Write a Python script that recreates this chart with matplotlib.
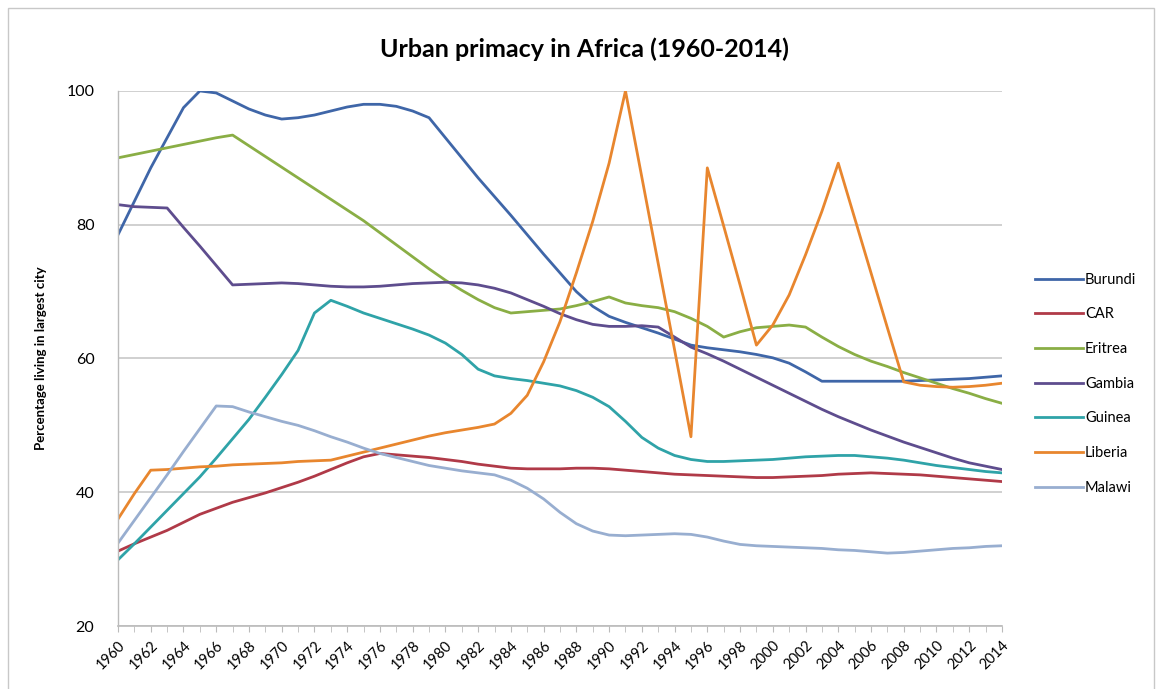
import matplotlib
matplotlib.use("Agg")
import matplotlib.pyplot as plt
from matplotlib.patches import Rectangle
from matplotlib.ticker import MultipleLocator

plt.rcParams['font.family'] = ['Lato', 'DejaVu Sans']

years = list(range(1960, 2015))

burundi = [78.5, 83.5, 88.5, 93.0, 97.5, 100.0, 99.7, 98.5, 97.3, 96.4,
           95.8, 96.0, 96.4, 97.0, 97.6, 98.0, 98.0, 97.7, 97.0, 96.0,
           93.0, 90.0, 87.0, 84.2, 81.4, 78.5, 75.6, 72.8, 70.0, 67.8,
           66.3, 65.4, 64.6, 63.8, 62.9, 62.0, 61.6, 61.3, 61.0, 60.6,
           60.1, 59.3, 58.0, 56.6, 56.6, 56.6, 56.6, 56.6, 56.6, 56.7,
           56.8, 56.9, 57.0, 57.2, 57.4]
car = [31.2, 32.3, 33.3, 34.3, 35.5, 36.7, 37.6, 38.5, 39.2, 39.9,
       40.7, 41.5, 42.4, 43.4, 44.4, 45.3, 45.8, 45.6, 45.4, 45.2,
       44.9, 44.6, 44.2, 43.9, 43.6, 43.5, 43.5, 43.5, 43.6, 43.6,
       43.5, 43.3, 43.1, 42.9, 42.7, 42.6, 42.5, 42.4, 42.3, 42.2,
       42.2, 42.3, 42.4, 42.5, 42.7, 42.8, 42.9, 42.8, 42.7, 42.6,
       42.4, 42.2, 42.0, 41.8, 41.6]
eritrea = [90.0, 90.5, 91.0, 91.5, 92.0, 92.5, 93.0, 93.4, 91.8, 90.2,
           88.6, 87.0, 85.4, 83.8, 82.2, 80.6, 78.8, 77.0, 75.2, 73.4,
           71.7, 70.2, 68.8, 67.6, 66.8, 67.0, 67.2, 67.4, 67.9, 68.5,
           69.2, 68.3, 67.9, 67.6, 67.0, 66.0, 64.8, 63.2, 64.0, 64.6,
           64.8, 65.0, 64.7, 63.2, 61.8, 60.6, 59.6, 58.8, 57.9, 57.1,
           56.3, 55.5, 54.8, 54.0, 53.3]
gambia = [83.0, 82.7, 82.6, 82.5, 79.6, 76.8, 73.9, 71.0, 71.1, 71.2,
          71.3, 71.2, 71.0, 70.8, 70.7, 70.7, 70.8, 71.0, 71.2, 71.3,
          71.4, 71.3, 71.0, 70.5, 69.8, 68.8, 67.8, 66.7, 65.8, 65.1,
          64.8, 64.8, 64.9, 64.7, 63.2, 61.7, 60.7, 59.6, 58.4, 57.2,
          56.0, 54.8, 53.6, 52.4, 51.3, 50.3, 49.3, 48.4, 47.5, 46.7,
          45.9, 45.1, 44.4, 43.9, 43.4]
guinea = [29.9, 32.3, 34.8, 37.3, 39.8, 42.3, 45.1, 48.0, 50.9, 54.2,
          57.6, 61.2, 66.8, 68.7, 67.8, 66.8, 66.0, 65.2, 64.4, 63.5,
          62.3, 60.6, 58.4, 57.4, 57.0, 56.7, 56.3, 55.9, 55.2, 54.2,
          52.8, 50.6, 48.2, 46.6, 45.5, 44.9, 44.6, 44.6, 44.7, 44.8,
          44.9, 45.1, 45.3, 45.4, 45.5, 45.5, 45.3, 45.1, 44.8, 44.4,
          44.0, 43.7, 43.4, 43.1, 42.9]
liberia = [36.0, 39.8, 43.3, 43.4, 43.6, 43.8, 43.9, 44.1, 44.2, 44.3,
           44.4, 44.6, 44.7, 44.8, 45.4, 46.0, 46.6, 47.2, 47.8, 48.4,
           48.9, 49.3, 49.7, 50.2, 51.8, 54.5, 59.5, 65.5, 72.8, 80.5,
           89.2, 100.0, 87.1, 74.2, 61.3, 48.3, 88.5, 79.8, 71.0, 62.0,
           65.0, 69.5, 75.5, 82.0, 89.2, 81.0, 72.8, 64.6, 56.5, 56.0,
           55.8, 55.7, 55.8, 56.0, 56.3]
malawi = [32.4, 35.8, 39.2, 42.6, 46.1, 49.5, 52.9, 52.8, 52.0, 51.3,
          50.6, 50.0, 49.2, 48.3, 47.5, 46.6, 45.8, 45.2, 44.6, 44.0,
          43.6, 43.2, 42.9, 42.6, 41.8, 40.6, 39.0, 37.0, 35.3, 34.2,
          33.6, 33.5, 33.6, 33.7, 33.8, 33.7, 33.3, 32.7, 32.2, 32.0,
          31.9, 31.8, 31.7, 31.6, 31.4, 31.3, 31.1, 30.9, 31.0, 31.2,
          31.4, 31.6, 31.7, 31.9, 32.0]

series_names = ["Burundi", "CAR", "Eritrea", "Gambia", "Guinea", "Liberia", "Malawi"]
series_values = [burundi, car, eritrea, gambia, guinea, liberia, malawi]
colors = ["#3F66A8", "#B03A48", "#8AAE45", "#5E4D8E", "#2FA3A8", "#E8862E", "#98AED0"]

title = "Urban primacy in Africa (1960-2014)"
ylabel = "Percentage living in largest city"
xtick_labels = [str(y) for y in range(1960, 2015, 2)]
ytick_values = [20, 40, 60, 80, 100]

fig = plt.figure(figsize=(11.57, 6.89), dpi=100)
ax = fig.add_axes([0.102, 0.0914, 0.764, 0.7766])

for name, vals, c in zip(series_names, series_values, colors):
    ax.plot(years, vals, color=c, lw=2.0, label=name, solid_joinstyle='round')

ax.set_xlim(1960, 2014)
ax.set_ylim(20, 100)
ax.set_yticks(ytick_values)
ax.set_xticks(list(range(1960, 2015, 2)))
ax.set_xticklabels(xtick_labels, rotation=45, ha='right', rotation_mode='anchor', fontsize=10.5)
ax.xaxis.set_minor_locator(MultipleLocator(1))
ax.tick_params(axis='x', which='both', direction='out', length=4, color='#BBBBBB', pad=5)
ax.tick_params(axis='y', which='both', length=0, labelsize=11.5, pad=17)
ax.grid(axis='y', color='#C8C8C8', lw=1.2)
ax.set_axisbelow(True)
for s in ['top', 'right']:
    ax.spines[s].set_visible(False)
ax.spines['left'].set_color('#BBBBBB')
ax.spines['bottom'].set_color('#BBBBBB')
ax.spines['left'].set_linewidth(1.0)
ax.spines['bottom'].set_linewidth(1.2)

ax.set_ylabel(ylabel, fontsize=9.5, fontweight='bold', labelpad=14)
fig.text(0.505, 0.928, title, ha='center', va='center', fontsize=18, fontweight='bold')

leg = fig.legend(loc='center left', bbox_to_anchor=(0.883, 0.443), frameon=False,
                 fontsize=10.5, handlelength=3.3, handletextpad=0.15, labelspacing=1.42)

fig.patches.append(Rectangle((0.007, -0.01), 0.99, 0.998, transform=fig.transFigure,
                             fill=False, edgecolor='#C8C8C8', lw=1.0))

fig.savefig("out.png", dpi=100, facecolor='white')
